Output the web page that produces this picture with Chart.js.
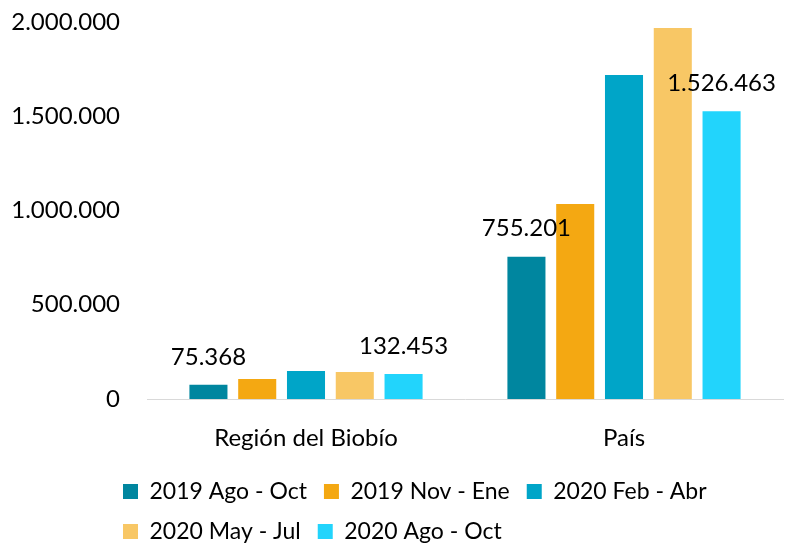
<!DOCTYPE html>
<html lang="es">
<head>
    <meta charset="UTF-8">
    <title>Ocupados</title>
    <script src="https://cdn.jsdelivr.net/npm/chart.js"></script>
    <style>
        body { margin: 0; background: #fff; }
    </style>
</head>
<body>
    <canvas id="grafico" width="785" height="550"></canvas>

    <script>
        var categorias = ['Región del Biobío', 'País'];
        var periodos = ['2019 Ago - Oct', '2019 Nov - Ene', '2020 Feb - Abr', '2020 May - Jul', '2020 Ago - Oct'];
        var colores = ['#00869f', '#f4a812', '#00a5c8', '#f8c765', '#22d4fc'];

        var ago2019 = [75368, 755201];
        var nov2019 = [106000, 1034000];
        var feb2020 = [148500, 1719000];
        var may2020 = [143000, 1968000];
        var ago2020 = [132453, 1526463];

        var marcasY = [0, 500000, 1000000, 1500000, 2000000];
        var conEtiqueta = [0, 4]; // solo primera y ultima serie llevan valor

        var fuente = 'Lato';

        function formatear(n) {
            return String(Math.round(n)).replace(/\B(?=(\d{3})+(?!\d))/g, '.');
        }

        // valores encima de las barras
        var etiquetas = {
            id: 'etiquetas',
            afterDatasetsDraw: function(chart) {
                var ctx = chart.ctx;
                ctx.save();
                ctx.font = '24px ' + fuente;
                ctx.fillStyle = '#000';
                ctx.textAlign = 'center';
                ctx.textBaseline = 'middle';
                conEtiqueta.forEach(function(i) {
                    chart.getDatasetMeta(i).data.forEach(function(barra, j) {
                        ctx.fillText(formatear(chart.data.datasets[i].data[j]), barra.x, barra.y - 28);
                    });
                });
                ctx.restore();
            }
        };

        // la leyenda va alineada con los numeros del eje, un poco mas abajo
        var moverLeyenda = {
            id: 'moverLeyenda',
            afterLayout: function(chart) {
                var l = chart.legend;
                l.left += 94; l.right += 94;
                l.top += 11; l.bottom += 11;
            }
        };

        var series = [ago2019, nov2019, feb2020, may2020, ago2020];

        new Chart(document.getElementById('grafico'), {
            type: 'bar',
            data: {
                labels: categorias,
                datasets: series.map(function(datos, i) {
                    return {
                        label: periodos[i],
                        data: datos,
                        backgroundColor: colores[i],
                        borderColor: colores[i],
                        borderWidth: 0,
                        categoryPercentage: 0.767,
                        barPercentage: 0.78
                    };
                })
            },
            options: {
                responsive: false,
                animation: false,
                layout: { padding: { top: 22, left: 12, right: 2, bottom: 8 } },
                scales: {
                    x: {
                        grid: { display: false, drawTicks: false },
                        border: { display: true, color: '#d9d9d9', width: 1 },
                        ticks: { padding: 25, color: '#000', font: { family: fuente, size: 24 } },
                        afterFit: function(s) { s.height = 53; s.paddingLeft = 0; s.paddingRight = 0; }
                    },
                    y: {
                        min: 0,
                        max: 2000000,
                        afterBuildTicks: function(axis) {
                            axis.ticks = marcasY.map(function(v) { return { value: v }; });
                        },
                        grid: { display: false, drawTicks: false },
                        border: { display: false },
                        ticks: {
                            padding: 27,
                            color: '#000',
                            font: { family: fuente, size: 24 },
                            callback: function(v) { return formatear(v); }
                        },
                        afterFit: function(s) { s.width = 135; s.paddingTop = 0; s.paddingBottom = 0; }
                    }
                },
                plugins: {
                    legend: {
                        position: 'bottom',
                        align: 'start',
                        labels: {
                            boxWidth: 15,
                            boxHeight: 15,
                            padding: 17,
                            color: '#000',
                            font: { family: fuente, size: 23 }
                        }
                    },
                    tooltip: { enabled: false }
                }
            },
            plugins: [etiquetas, moverLeyenda]
        });
    </script>
</body>
</html>
